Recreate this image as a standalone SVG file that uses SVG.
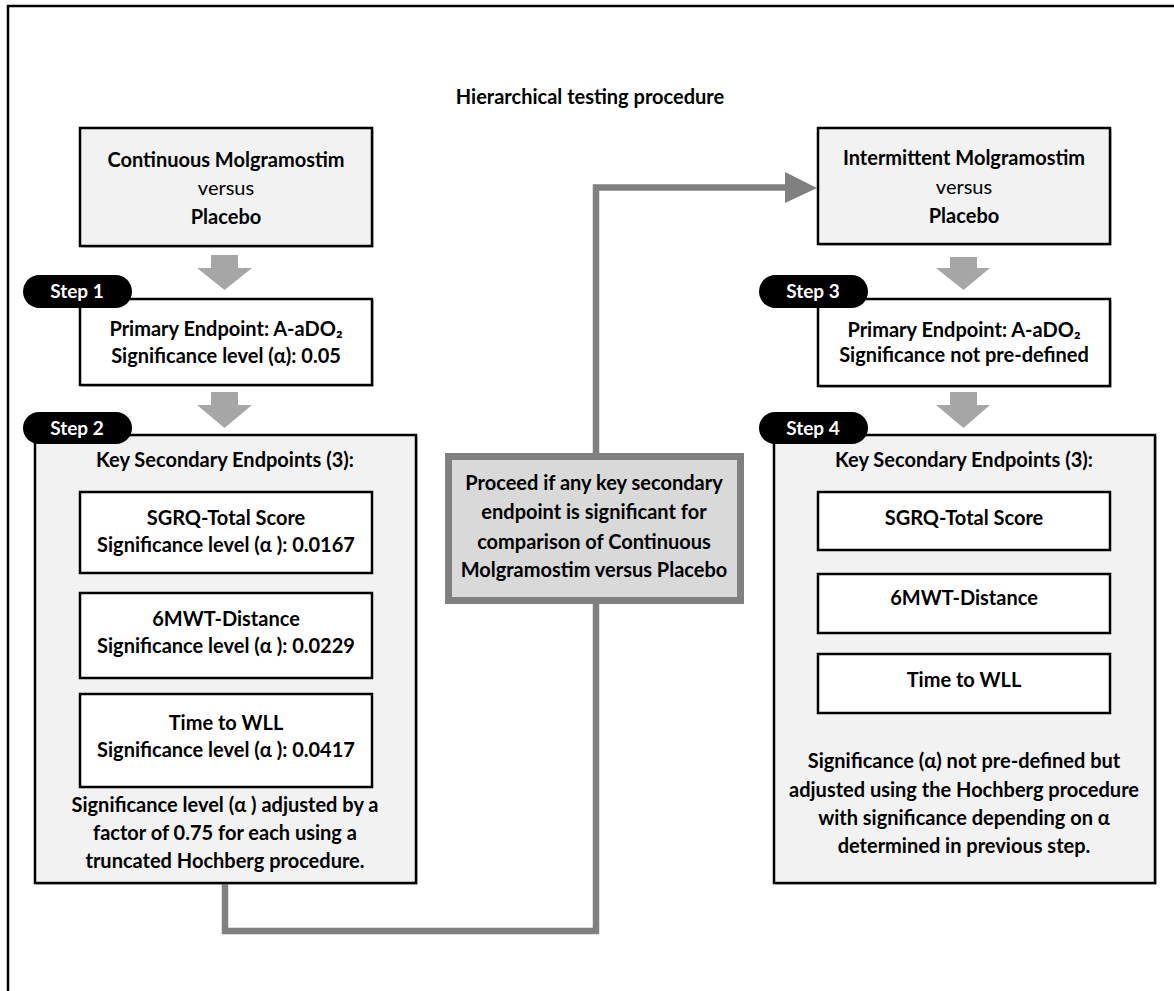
<svg xmlns="http://www.w3.org/2000/svg" width="1174" height="991" viewBox="0 0 1174 991">
<style>
text{font-family:Lato,"Open Sans","Liberation Sans",sans-serif;font-size:20px;text-anchor:middle;fill:#000;font-weight:bold}
.n{font-weight:normal}
.step{fill:#fff;font-size:19px}
.box{stroke:#000;stroke-width:2.5}
.shade{fill:#f2f2f2}
.white{fill:#fff}
.shadow{fill:#9a9a9a}
.pill{fill:#000}
.darr{fill:#a6a6a6}
.conn{fill:none;stroke:#808080;stroke-width:6.5}
</style>
<rect x="8" y="6" width="1200" height="1020" fill="#fff" stroke="#000" stroke-width="2.5"/>
<text x="590" y="104" style="font-size:20px">Hierarchical testing procedure</text>

<g id="connectors">
<polyline class="conn" points="225,884 225,931 596,931 596,604"/>
<polyline class="conn" points="596,453 596,187.5 790,187.5"/>
<polygon points="785,172 817,188 785,203" fill="#808080"/>
<polygon class="darr" points="211,255 238,255 238,268 252,268 224.5,290 197,268 211,268"/>
<polygon class="darr" points="211,392 238,392 238,405 252,405 224.5,428 197,405 211,405"/>
<polygon class="darr" points="950,257 977,257 977,268 990,268 963.5,290 936,268 950,268"/>
<polygon class="darr" points="950,392 977,392 977,405 990,405 963.5,428 936,405 950,405"/>
</g>

<g id="cont">
<rect class="shadow" x="81.5" y="129.5" width="292" height="118"/>
<rect class="box shade" x="80" y="128" width="292" height="118"/>
<text x="226" y="167">Continuous Molgramostim</text>
<text class="n" x="226" y="195">versus</text>
<text x="226" y="224">Placebo</text>
</g>

<g id="step1">
<rect class="shadow" x="81.5" y="300.5" width="292" height="86"/>
<rect class="box white" x="80" y="299" width="292" height="86"/>
<rect class="pill" x="23" y="275" width="109" height="33" rx="16.5"/>
<text class="step" x="77" y="298">Step 1</text>
<text x="226" y="336">Primary Endpoint: A-aDO₂</text>
<text x="226" y="363">Significance level (α): 0.05</text>
</g>

<g id="step2">
<rect class="shadow" x="36.5" y="436.5" width="381" height="448"/>
<rect class="box shade" x="35" y="435" width="381" height="448"/>
<rect class="pill" x="23" y="412" width="109" height="32" rx="16"/>
<text class="step" x="77" y="435">Step 2</text>
<text x="225" y="467">Key Secondary Endpoints (3):</text>
<rect class="box white" x="80" y="492" width="292" height="81"/>
<text x="226" y="525">SGRQ-Total Score</text>
<text x="226" y="552">Significance level (α ): 0.0167</text>
<rect class="box white" x="80" y="593" width="292" height="85"/>
<text x="226" y="626">6MWT-Distance</text>
<text x="226" y="653">Significance level (α ): 0.0229</text>
<rect class="box white" x="80" y="694" width="292" height="93"/>
<text x="226" y="730">Time to WLL</text>
<text x="226" y="757">Significance level (α ): 0.0417</text>
<text x="225" y="812">Significance level (α ) adjusted by a</text>
<text x="225" y="840">factor of 0.75 for each using a</text>
<text x="225" y="868">truncated Hochberg procedure.</text>
</g>

<g id="proceed">
<rect x="448.5" y="456.5" width="292" height="144" fill="#d9d9d9" stroke="#808080" stroke-width="7"/>
<text x="594" y="490">Proceed if any key secondary</text>
<text x="594" y="519">endpoint is significant for</text>
<text x="594" y="549">comparison of Continuous</text>
<text x="594" y="577">Molgramostim versus Placebo</text>
</g>

<g id="inter">
<rect class="shadow" x="819.5" y="129.5" width="292" height="116"/>
<rect class="box shade" x="818" y="128" width="292" height="116"/>
<text x="964" y="165">Intermittent Molgramostim</text>
<text class="n" x="964" y="194">versus</text>
<text x="964" y="223">Placebo</text>
</g>

<g id="step3">
<rect class="shadow" x="819.5" y="300.5" width="292" height="87"/>
<rect class="box white" x="818" y="299" width="292" height="87"/>
<rect class="pill" x="759" y="275" width="109" height="33" rx="16.5"/>
<text class="step" x="813" y="298">Step 3</text>
<text x="964" y="337">Primary Endpoint: A-aDO₂</text>
<text x="964" y="362">Significance not pre-defined</text>
</g>

<g id="step4">
<rect class="shadow" x="775.5" y="436.5" width="381" height="448"/>
<rect class="box shade" x="774" y="435" width="381" height="448"/>
<rect class="pill" x="759" y="412" width="109" height="32" rx="16"/>
<text class="step" x="813" y="435">Step 4</text>
<text x="964" y="467">Key Secondary Endpoints (3):</text>
<rect class="box white" x="818" y="492" width="292" height="58"/>
<text x="964" y="525">SGRQ-Total Score</text>
<rect class="box white" x="818" y="574" width="292" height="59"/>
<text x="964" y="605">6MWT-Distance</text>
<rect class="box white" x="818" y="654" width="292" height="59"/>
<text x="964" y="687">Time to WLL</text>
<text x="964" y="768">Significance (α) not pre-defined but</text>
<text x="964" y="797">adjusted using the Hochberg procedure</text>
<text x="964" y="825">with significance depending on α</text>
<text x="964" y="853">determined in previous step.</text>
</g>
</svg>
